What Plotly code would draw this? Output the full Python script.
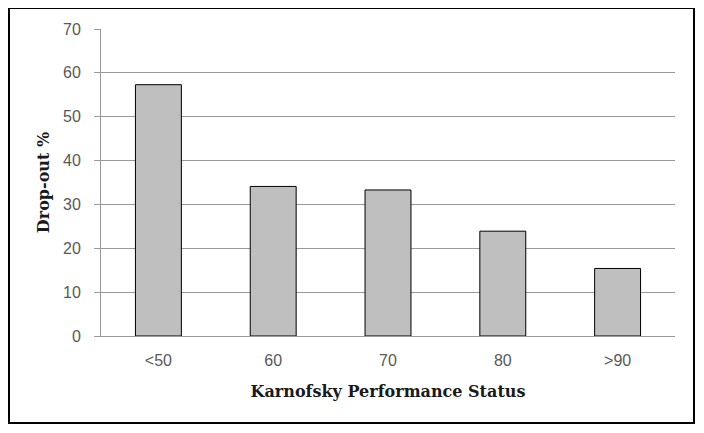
import plotly.graph_objects as go

categories = ["<50", "60", "70", "80", ">90"]
dropout_pct = [57.3, 34.1, 33.3, 23.9, 15.4]
y_ticks = [0, 10, 20, 30, 40, 50, 60, 70]

fig = go.Figure(go.Bar(
    x=categories, y=dropout_pct,
    marker=dict(color="#BFBFBF", line=dict(color="black", width=1)),
))

# page body adds an 8px margin, so the figure is sized/offset to compensate
fig.update_layout(
    width=696, height=425,
    margin=dict(l=93, r=29, t=21, b=97),
    paper_bgcolor="white", plot_bgcolor="white",
    bargap=0.6, showlegend=False,
    font=dict(family="Liberation Sans, Arial", size=16, color="#595959"),
)
title_font = dict(family="DejaVu Serif", size=16, color="#1a1a1a", weight="bold")
fig.update_yaxes(
    range=[0, 70], tickvals=y_ticks, showgrid=True, gridcolor="#999999", gridwidth=1,
    showline=True, linecolor="#999999", ticks="outside", ticklen=6, tickcolor="#999999",
    zeroline=False, ticklabelstandoff=10,
    title=dict(text="Drop-out %", standoff=9, font=title_font),
)
fig.update_xaxes(
    showline=True, linecolor="#999999", ticks="", ticklabelstandoff=10,
    title=dict(text="Karnofsky Performance Status", standoff=17, font=title_font),
)
# outer frame around the whole chart
fig.add_shape(type="rect", xref="paper", yref="paper",
              x0=-0.1603, x1=1.0331, y0=-0.2834, y1=1.0684,
              line=dict(color="black", width=2))

fig.write_html("out.html")
